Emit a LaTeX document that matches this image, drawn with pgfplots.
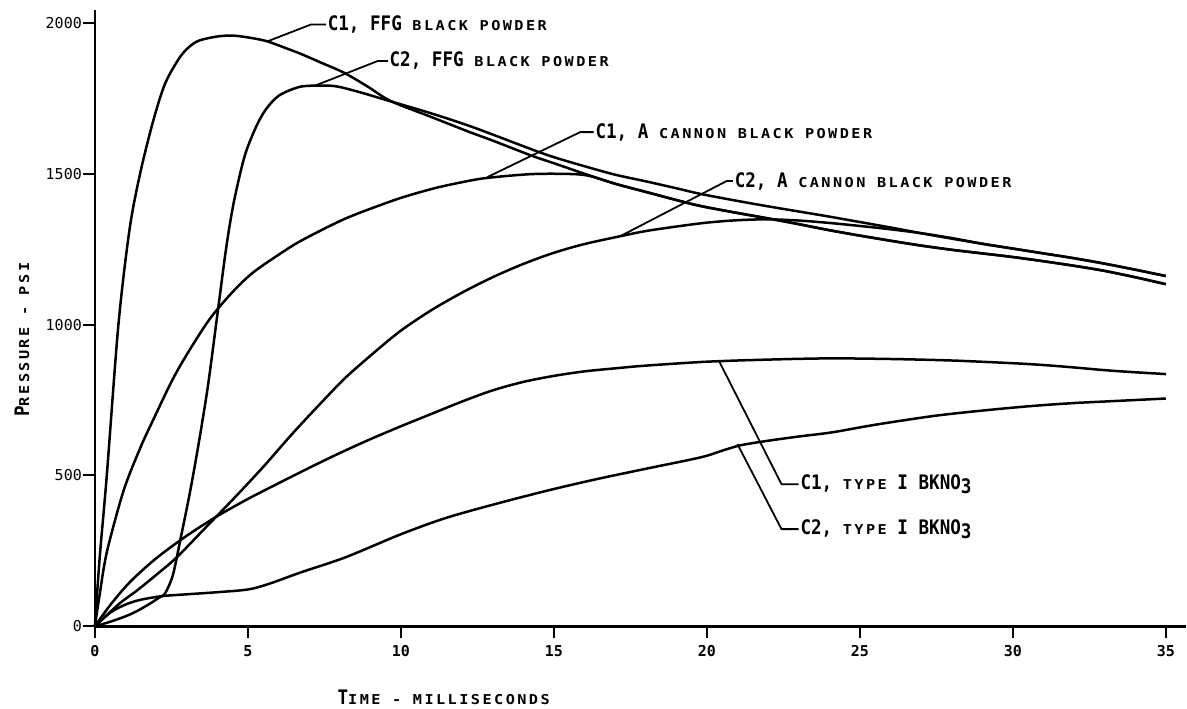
\documentclass[border=0pt]{standalone}
\usepackage{fontspec}
\usepackage{pgfplots}
\pgfplotsset{compat=1.18}
\newfontfamily\capfont{DejaVu Sans Mono}[FakeStretch=0.88]
\newfontfamily\scfont{DejaVu Sans Mono}[FakeStretch=1.12, LetterSpace=18]
\newfontfamily\tickfont{DejaVu Sans Mono}
\newcommand{\CP}[1]{{\fontsize{10}{12}\selectfont\capfont\bfseries #1}}
\newcommand{\SC}[1]{{\fontsize{6.8}{8}\selectfont\scfont\bfseries #1}}
\begin{document}
\begin{tikzpicture}
\begin{axis}[
  scale only axis, width=546pt, height=308.5pt,
  xmin=0, xmax=35.65, ymin=0, ymax=2043,
  axis x line=bottom, axis y line=left,
  axis line style={-, line width=1.3pt},
  xtick={0,5,...,35}, ytick={0,500,...,2000},
  tick align=outside, major tick length=6pt,
  every tick/.style={black, line width=1pt},
  /pgf/number format/1000 sep={},
  /pgf/number format/assume math mode=true,
  xticklabel style={font=\fontsize{7.5}{9}\selectfont\tickfont\bfseries},
  yticklabel style={font=\fontsize{7.5}{9}\selectfont\tickfont, xshift=3pt},
  clip=false,
  crv/.style={black, solid, line width=1.25pt, smooth, tension=0.5, mark=none},
]
% C1, FFG black powder
\addplot[crv] coordinates {(0,0) (0.16,230) (0.39,500) (0.77,1000) (1.14,1320) (1.5,1510) (1.92,1680) (2.3,1800) (2.77,1885) (3.1,1922) (3.42,1942) (4.0,1955) (4.5,1958) (5.0,1952) (5.6,1940) (6.2,1918) (6.74,1897) (7.4,1868) (8.14,1835) (8.9,1790) (9.67,1741) (11,1688) (12.2,1640) (13,1610) (14.3,1559) (15,1535) (16,1500) (17,1467) (18,1440) (19,1413) (19.8,1393) (21,1370) (22,1352) (23,1333) (24,1313) (25,1295) (26,1278) (27,1262) (28,1248) (29,1236) (30,1224) (31,1210) (32,1195) (33,1178) (34,1157) (35,1134)};
% C2, FFG black powder
\addplot[crv] coordinates {(0,0) (0.5,15) (1.0,33) (1.37,50) (1.8,75) (2.1,95) (2.3,110) (2.55,170) (2.8,290) (3.1,440) (3.4,610) (3.7,800) (4.0,1030) (4.3,1260) (4.55,1410) (4.9,1560) (5.28,1658) (5.6,1715) (6.0,1758) (6.5,1782) (6.9,1791) (7.8,1791) (8.6,1772) (9.4,1748) (11,1700) (12.2,1660) (13,1630) (14.3,1580) (15,1555) (16,1525) (17,1497) (18,1475) (19,1452) (19.8,1433) (21,1410) (22,1392) (23,1375) (24,1358) (25,1340) (26,1322) (27,1303) (28,1285) (29,1268) (30,1252) (31,1236) (32,1220) (33,1202) (34,1182) (35,1161)};
% C1, A cannon black powder
\addplot[crv] coordinates {(0,0) (0.15,100) (0.39,245) (0.94,450) (1.5,595) (1.92,687) (2.5,810) (3.0,900) (3.75,1018) (4.5,1108) (5.2,1175) (6.25,1248) (6.74,1278) (7.5,1318) (8.2,1352) (8.9,1380) (10,1420) (11.1,1452) (12,1472) (12.8,1486) (14.3,1499) (15.6,1499) (16.2,1492) (17,1467) (18,1440) (19,1413) (19.8,1393) (21,1370) (22,1352) (23,1333) (24,1313) (25,1295) (26,1278) (27,1262) (28,1248) (29,1236) (30,1224) (31,1210) (32,1195) (33,1178) (34,1157) (35,1134)};
% C2, A cannon black powder
\addplot[crv] coordinates {(0,0) (0.8,75) (1.37,118) (2.0,170) (2.67,228) (3.6,325) (4.6,430) (5.5,528) (6.25,615) (6.74,670) (7.5,752) (8.2,825) (9.1,905) (10,980) (11,1048) (12,1106) (13,1157) (14,1201) (15,1238) (16,1267) (17.17,1293) (18,1310) (19,1325) (20,1338) (21,1346) (22,1349) (23,1345) (24,1337) (25,1327) (26,1316) (27,1303) (28,1287) (29,1268) (30,1252) (31,1236) (32,1220) (33,1202) (34,1182) (35,1161)};
% C1, type I BKNO3
\addplot[crv] coordinates {(0,0) (0.5,70) (1.14,146) (2,225) (3,300) (4,365) (5,422) (6,474) (7,525) (8,574) (9,620) (10,663) (11,704) (12,745) (13,782) (14,810) (15,830) (16,845) (17,855) (18,864) (20,877) (22,884) (24,888) (26,886) (28,881) (30,872) (31,866) (32,858) (33,849) (34,842) (35,836)};
% C2, type I BKNO3
\addplot[crv] coordinates {(0,0) (0.5,45) (1,72) (1.5,88) (2.2,100) (3,106) (4,113) (5,122) (5.67,140) (6.74,179) (8.2,229) (10,305) (11.5,360) (13.3,411) (15,455) (16.5,490) (18,522) (19.8,560) (20.5,582) (21.1,600) (22,615) (23,629) (24.1,643) (25.5,668) (27.4,697) (29,715) (30.6,730) (32,740) (33.2,746) (34,750) (35,755)};

% leaders and labels
\draw[line width=0.9pt] (axis cs:5.67,1940) -- (axis cs:7.07,1995) -- (axis cs:7.56,1995);
\node[anchor=west, inner sep=0pt] at (axis cs:7.6,1995) {\CP{C1, FFG }\SC{BLACK POWDER}};
\draw[line width=0.9pt] (axis cs:7.17,1791) -- (axis cs:9.25,1874) -- (axis cs:9.58,1874);
\node[anchor=west, inner sep=0pt] at (axis cs:9.62,1874) {\CP{C2, FFG }\SC{BLACK POWDER}};
\draw[line width=0.9pt] (axis cs:12.83,1489) -- (axis cs:15.86,1638) -- (axis cs:16.3,1638);
\node[anchor=west, inner sep=0pt] at (axis cs:16.35,1638) {\CP{C1, A }\SC{CANNON BLACK POWDER}};
\draw[line width=0.9pt] (axis cs:17.17,1293) -- (axis cs:20.65,1476) -- (axis cs:20.85,1476);
\node[anchor=west, inner sep=0pt] at (axis cs:20.9,1476) {\CP{C2, A }\SC{CANNON BLACK POWDER}};
\draw[line width=0.9pt] (axis cs:20.4,879) -- (axis cs:22.44,471) -- (axis cs:23.0,471);
\node[anchor=west, inner sep=0pt] at (axis cs:23.05,471) {\CP{C1, }\SC{TYPE}\CP{ I BKNO\raisebox{-0.3ex}{3}}};
\draw[line width=0.9pt] (axis cs:21.0,604) -- (axis cs:22.44,322) -- (axis cs:23.0,322);
\node[anchor=west, inner sep=0pt] at (axis cs:23.05,322) {\CP{C2, }\SC{TYPE}\CP{ I BKNO\raisebox{-0.3ex}{3}}};

% axis titles
\node[rotate=90, inner sep=0pt] at (axis cs:-2.38,950) {\CP{P}\SC{RESSURE - PSI}};
\node[inner sep=0pt] at (axis cs:11.4,-235) {\CP{T}\SC{IME - MILLISECONDS}};

% bounding box
\path (axis cs:-3.1,-271.5) rectangle (axis cs:35.65,2076);
\end{axis}
\end{tikzpicture}
\end{document}
